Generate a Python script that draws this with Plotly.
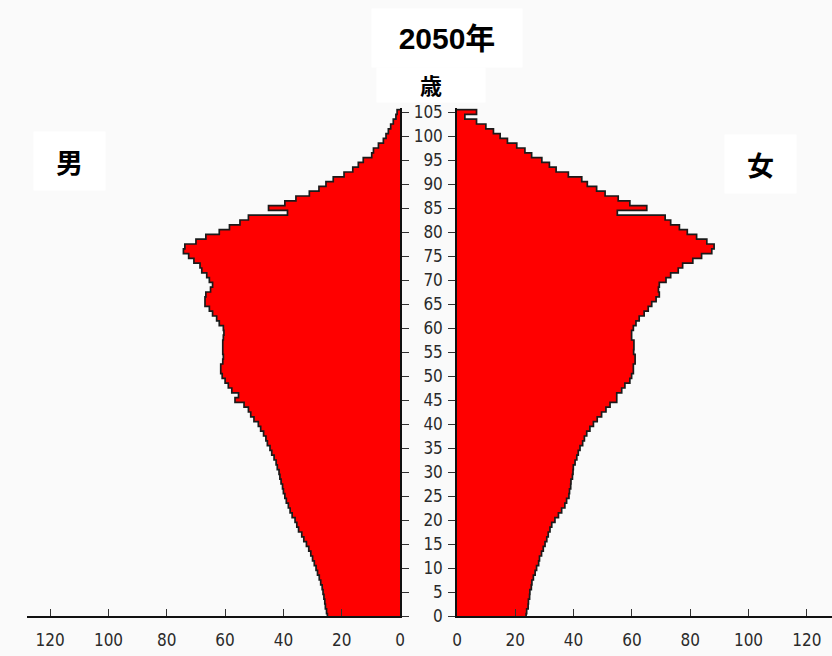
import numpy as np
import plotly.graph_objects as go

ages = list(range(0, 106))

male = [24.9, 25.2, 25.6, 25.8, 26.1, 26.4, 26.7, 27.2, 27.7, 28.3,
        28.8, 29.4, 30.0, 30.6, 31.3, 32.1, 33.0, 33.7, 34.8, 35.4,
        36.0, 37.0, 37.7, 38.3, 39.0, 39.5, 40.0, 40.3, 40.8, 41.2,
        41.5, 42.1, 42.5, 43.2, 44.0, 44.6, 45.5, 46.0, 46.8, 47.8,
        48.6, 50.1, 51.2, 52.0, 53.5, 56.6, 55.4, 57.7, 58.9, 60.0,
        61.0, 61.5, 61.5, 60.8, 60.6, 60.8, 60.8, 60.8, 60.6, 60.4,
        60.6, 62.0, 62.9, 64.3, 65.4, 66.9, 66.9, 66.6, 65.0, 64.3,
        65.4, 66.3, 68.0, 68.6, 70.7, 72.5, 74.3, 73.8, 70.0, 66.6,
        62.0, 58.5, 54.9, 52.0, 38.6, 45.1, 39.5, 35.7, 31.1, 27.8,
        25.4, 22.9, 19.2, 16.2, 14.3, 12.6, 9.7, 9.1, 7.4, 5.7,
        4.8, 4.0, 3.2, 2.3, 1.4, 1.0]

female = [23.7, 23.9, 24.4, 24.5, 24.9, 25.0, 25.5, 25.7, 26.2, 26.8,
          27.3, 28.0, 28.3, 29.0, 29.6, 30.2, 30.8, 31.3, 31.9, 32.5,
          33.6, 34.8, 35.9, 37.0, 37.6, 38.4, 38.6, 39.0, 39.1, 39.6,
          39.8, 39.9, 40.5, 41.1, 41.6, 42.2, 43.1, 43.7, 44.5, 45.6,
          46.8, 48.1, 49.6, 51.1, 52.5, 54.8, 54.8, 56.5, 57.6, 59.3,
          59.9, 60.5, 60.5, 61.1, 61.1, 60.6, 60.7, 60.7, 59.9, 59.9,
          60.5, 61.4, 62.5, 64.2, 65.6, 66.8, 68.3, 69.4, 69.1, 69.4,
          71.7, 73.3, 75.9, 77.4, 80.9, 83.9, 87.4, 88.2, 85.7, 82.2,
          79.0, 76.3, 73.3, 71.4, 55.0, 65.1, 59.3, 55.3, 50.8, 47.9,
          44.7, 42.8, 38.2, 34.0, 31.7, 29.1, 25.6, 23.3, 20.5, 17.3,
          14.8, 12.5, 9.9, 6.7, 2.7, 6.7]

x_ticks = [0, 20, 40, 60, 80, 100, 120]
age_ticks = list(range(0, 106, 5))

title_text = "2050年"
age_label = "歳"
male_label = "男"
female_label = "女"

BAR = "#ff0000"
EDGE = "#1a1a1a"
BG = "#fafafa"
TICKFONT = dict(family="Liberation Sans Narrow, Arial Narrow, DejaVu Sans Condensed, sans-serif",
                size=17, color="#2a2a2a")

ages_arr = np.array(ages, dtype=float)


def step_outline(vals):
    xs = list(vals) + [0]
    ys = list(ages_arr - 0.5) + [ages_arr[-1] + 0.5]
    return xs, ys


fig = go.Figure()

fig.add_trace(go.Bar(x=male, y=ages, orientation="h", width=1,
                     marker=dict(color=BAR, line=dict(width=0)),
                     xaxis="x", yaxis="y", showlegend=False, hoverinfo="x+y"))
fig.add_trace(go.Bar(x=female, y=ages, orientation="h", width=1,
                     marker=dict(color=BAR, line=dict(width=0)),
                     xaxis="x2", yaxis="y2", showlegend=False, hoverinfo="x+y"))

mx, my = step_outline(male)
fx, fy = step_outline(female)
fig.add_trace(go.Scatter(x=mx, y=my, mode="lines", line=dict(color=EDGE, width=1.7, shape="vh"),
                         xaxis="x", yaxis="y", showlegend=False, hoverinfo="skip"))
fig.add_trace(go.Scatter(x=fx, y=fy, mode="lines", line=dict(color=EDGE, width=1.7, shape="vh"),
                         xaxis="x2", yaxis="y2", showlegend=False, hoverinfo="skip"))

W, H = 832, 656
y_bottom_px, y_top_px = 616, 108.3
ydom = [(H - y_bottom_px) / H, (H - y_top_px) / H]
yrange = [0, 105.77]

common_x = dict(showgrid=False, zeroline=False, showline=True, linecolor="#111111", linewidth=1.5,
                ticks="inside", ticklen=7, tickwidth=1, tickcolor="#333333",
                tickvals=x_ticks, ticktext=[str(v) for v in x_ticks],
                tickfont=TICKFONT, ticklabelstandoff=8, fixedrange=True, automargin=False)

common_y = dict(domain=ydom, range=yrange, showgrid=False, zeroline=False, showline=True,
                linecolor="#111111", linewidth=1.5, ticks="outside", ticklen=7, tickwidth=1,
                tickcolor="#333333", tickvals=age_ticks, fixedrange=True, automargin=False)

fig.update_layout(
    width=W, height=H,
    margin=dict(l=0, r=0, t=0, b=0, pad=0),
    paper_bgcolor=BG, plot_bgcolor=BG,
    bargap=0,
    xaxis=dict(domain=[27 / W, 400 / W], range=[(400 - 27) / 2.915, 0], anchor="y", **common_x),
    xaxis2=dict(domain=[457 / W, 1.0], range=[0, (W - 457) / 2.915], anchor="y2", **common_x),
    yaxis=dict(anchor="x", side="right", showticklabels=False, **common_y),
    yaxis2=dict(anchor="x2", side="left", ticktext=[str(v) for v in age_ticks],
                tickfont=TICKFONT, ticklabelstandoff=2, **common_y),
    annotations=[
        dict(text="<b>" + title_text + "</b>", xref="paper", yref="paper",
             x=446.7 / W, y=1 - 38 / H, xanchor="center", yanchor="middle",
             showarrow=False, bgcolor="#ffffff", width=150, height=58, borderpad=0,
             font=dict(family="Liberation Sans, Arial, Noto Sans CJK JP", size=30, color="#000000")),
        dict(text="<b>" + age_label + "</b>", xref="paper", yref="paper",
             x=431 / W, y=1 - 85 / H, xanchor="center", yanchor="middle", valign="top",
             showarrow=False, bgcolor="#ffffff", width=108, height=34, borderpad=0,
             font=dict(family="Noto Sans CJK JP", size=22, color="#000000")),
        dict(text="<b>" + male_label + "</b>", xref="paper", yref="paper",
             x=69.5 / W, y=1 - 161 / H, xanchor="center", yanchor="middle",
             showarrow=False, bgcolor="#ffffff", width=71, height=58, borderpad=0,
             font=dict(family="Noto Sans CJK JP", size=27, color="#000000")),
        dict(text="<b>" + female_label + "</b>", xref="paper", yref="paper",
             x=760.5 / W, y=1 - 164 / H, xanchor="center", yanchor="middle",
             showarrow=False, bgcolor="#ffffff", width=71, height=58, borderpad=0,
             font=dict(family="Noto Sans CJK JP", size=27, color="#000000")),
    ],
)

fig.write_html("out.html",
               config={"displayModeBar": False},
               post_script="document.body.style.margin='0';"
                           "document.documentElement.style.overflow='hidden';"
                           "document.body.style.overflow='hidden';")
